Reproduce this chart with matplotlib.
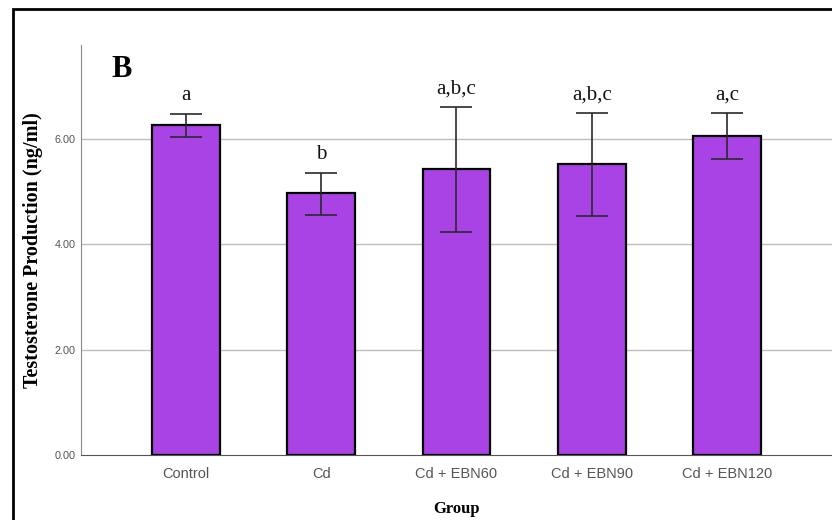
import matplotlib.pyplot as plt
from matplotlib.patches import Rectangle
import numpy as np

groups = ["Control", "Cd", "Cd + EBN60", "Cd + EBN90", "Cd + EBN120"]
means = [6.26, 4.97, 5.43, 5.52, 6.05]
ci_low = [6.03, 4.55, 4.23, 4.54, 5.62]
ci_high = [6.47, 5.35, 6.60, 6.49, 6.49]
letters = ["a", "b", "a,b,c", "a,b,c", "a,c"]
yticks = [0, 2, 4, 6]

SERIF = ["Liberation Serif", "DejaVu Serif"]
SANS = ["Liberation Sans", "DejaVu Sans"]

fig = plt.figure(figsize=(8.32, 5.2), dpi=100)
ax = fig.add_axes([81/832, 65/520, 1-81/832, 410/520])

x = np.arange(len(groups))
means = np.asarray(means)
yerr = np.vstack([means-np.asarray(ci_low), np.asarray(ci_high)-means])

for y in yticks[1:]:
    ax.axhline(y, color="#bdbdbd", lw=1, zorder=0)
ax.bar(x, means, width=0.5, color="#a943e6", edgecolor="black", lw=1.6, zorder=2)
ax.errorbar(x, means, yerr=yerr, fmt="none", ecolor="#2a2a2a", elinewidth=1.2, capsize=11.5, capthick=1.2, zorder=3)
for xi, top, lab in zip(x, ci_high, letters):
    ax.annotate(lab, (xi, top), xytext=(0, 10), textcoords="offset points", ha="center", va="baseline",
                fontsize=15, family=SERIF, color="#111111")

ax.set_xlim(-0.775, 4.775); ax.set_ylim(0, 7.78)
ax.set_yticks(yticks, [f"{v:.2f}" for v in yticks], fontsize=7.8, family=SANS, color="#555555")
ax.set_xticks(x, groups, fontsize=10.5, family=SANS, color="#555555")
ax.tick_params(length=0, pad=4)
ax.tick_params(axis="x", pad=9)
for side in ("top", "right"):
    ax.spines[side].set_visible(False)
ax.spines["left"].set_color("#8a8a8a"); ax.spines["bottom"].set_color("#555555")
ax.set_ylabel("Testosterone Production (ng/ml)", fontsize=14.5, fontweight="bold", family=SERIF)
ax.yaxis.set_label_coords(-0.051, 0.5)
ax.set_xlabel("Group", fontsize=12, fontweight="bold", family=SERIF, labelpad=14)
ax.text(0.041, 0.975, "B", transform=ax.transAxes, fontsize=22, fontweight="bold", family=SERIF, va="top")

fig.patches.append(Rectangle((13/832, -0.1), 1.0, 1-9/520+0.1, transform=fig.transFigure,
                             fill=False, ec="black", lw=2))
fig.savefig("out.png", dpi=100)
